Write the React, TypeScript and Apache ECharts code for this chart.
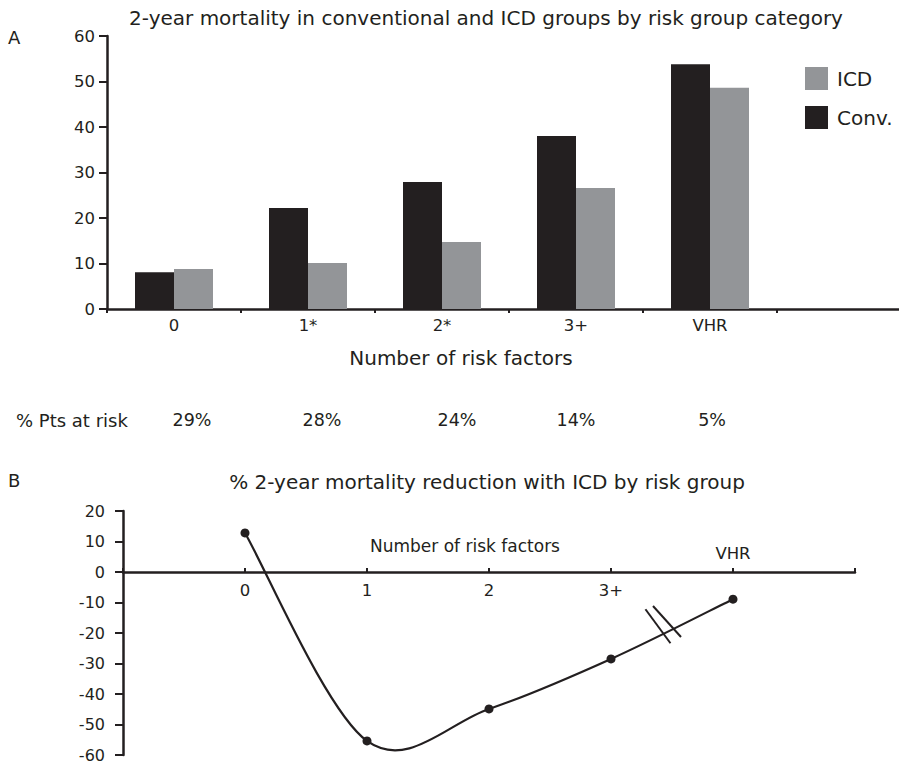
import React, { useEffect, useRef } from "react";
import * as echarts from "echarts";

// ---- Panel A data ----
const riskCategories = ["0", "1*", "2*", "3+", "VHR", ""];
const convMortality = [8.1, 22.2, 27.9, 38.0, 53.8];
const icdMortality = [8.8, 10.1, 14.7, 26.6, 48.6];
const mortalityMin = 0;
const mortalityMax = 60;
const mortalityStep = 10;
const ptsAtRiskLabel = "% Pts at risk";
const ptsAtRisk = ["29%", "28%", "24%", "14%", "5%"];

// ---- Panel B data ----
const reductionX = [0, 1, 2, 3, 4];
const reductionValues = [12.8, -55.4, -44.9, -28.5, -8.9];
const reductionXLabels = ["0", "1", "2", "3+", "VHR"];
const reductionMin = -60;
const reductionMax = 20;
const reductionStep = 10;

// ---- layout (not data) ----
const ptsAtRiskX = [192, 322, 457, 576, 712];
const gridB = { left: 123, top: 511, width: 732, height: 244 };

const FONT = "DejaVu Sans, Verdana, sans-serif";
const INK = "#231f20";
const GREY = "#939598";

export default function App() {
  const ref = useRef<HTMLDivElement>(null);

  useEffect(() => {
    if (!ref.current) return;
    const chart = echarts.init(ref.current, undefined, { renderer: "svg" });

    const baseText = { fontFamily: FONT, color: INK };
    const zeroFromBottom = (gridB.height * (0 - reductionMin)) / (reductionMax - reductionMin);
    const zeroFromTop = gridB.height - zeroFromBottom;
    const n = reductionX.length;

    // Catmull-Rom segment from point i to i+1, in pixel space through the axes
    const renderCurve = (params: any, api: any) => {
      const i = params.dataIndex;
      if (i >= n - 1) return null;
      const P = (k: number) => {
        const kk = Math.max(0, Math.min(n - 1, k));
        return api.coord([reductionX[kk], reductionValues[kk]]);
      };
      const p0 = P(i - 1);
      const p1 = P(i);
      const p2 = P(i + 1);
      const p3 = P(i + 2);
      return {
        type: "bezierCurve",
        shape: {
          x1: p1[0],
          y1: p1[1],
          cpx1: p1[0] + (p2[0] - p0[0]) / 6,
          cpy1: p1[1] + (p2[1] - p0[1]) / 6,
          cpx2: p2[0] - (p3[0] - p1[0]) / 6,
          cpy2: p2[1] - (p3[1] - p1[1]) / 6,
          x2: p2[0],
          y2: p2[1],
        },
        style: { fill: "none", stroke: INK, lineWidth: 2.2 },
      };
    };

    const option: any = {
      animation: false,
      backgroundColor: "#ffffff",
      textStyle: { fontFamily: FONT, color: INK },
      legend: {
        data: ["ICD", "Conv."],
        orient: "vertical",
        left: 800,
        top: 62,
        itemWidth: 23,
        itemHeight: 23,
        itemGap: 16,
        icon: "rect",
        textStyle: { ...baseText, fontSize: 20, padding: [0, 0, 0, 4] },
        selectedMode: false,
      },
      grid: [
        { left: 107, top: 36, width: 804, height: 273, containLabel: false, outerBoundsMode: "none" },
        { ...gridB, containLabel: false, outerBoundsMode: "none" },
      ],
      xAxis: [
        {
          gridIndex: 0,
          type: "category",
          data: riskCategories,
          boundaryGap: true,
          axisLine: { lineStyle: { color: INK, width: 2.5 } },
          axisTick: { show: true, length: 4, lineStyle: { color: INK, width: 2 } },
          axisLabel: { ...baseText, fontSize: 16.5, margin: 8 },
          splitLine: { show: false },
        },
        {
          gridIndex: 1,
          type: "value",
          min: -1,
          max: 5,
          interval: 1,
          position: "bottom",
          offset: -zeroFromBottom,
          axisLine: { onZero: false, lineStyle: { color: INK, width: 2.5 } },
          axisTick: { show: true, inside: true, length: 4, lineStyle: { color: INK, width: 2 } },
          axisLabel: {
            ...baseText,
            fontSize: 16.5,
            margin: 10,
            formatter: (v: number) => (v >= 0 && v <= 3 ? reductionXLabels[v] : ""),
          },
          splitLine: { show: false },
        },
        {
          gridIndex: 1,
          type: "value",
          position: "top",
          offset: -zeroFromTop,
          min: -1,
          max: 5,
          interval: 1,
          axisLine: { show: false, onZero: false },
          axisTick: { show: false },
          axisLabel: {
            ...baseText,
            fontSize: 16.5,
            margin: 10,
            formatter: (v: number) => (v === 4 ? reductionXLabels[4] : ""),
          },
          splitLine: { show: false },
        },
      ],
      yAxis: [
        {
          gridIndex: 0,
          type: "value",
          min: mortalityMin,
          max: mortalityMax,
          interval: mortalityStep,
          axisLine: { show: true, lineStyle: { color: INK, width: 2.5 } },
          axisTick: { show: true, length: 8, lineStyle: { color: INK, width: 2 } },
          axisLabel: { ...baseText, fontSize: 16.5, margin: 12 },
          splitLine: { show: false },
        },
        {
          gridIndex: 1,
          type: "value",
          min: reductionMin,
          max: reductionMax,
          interval: reductionStep,
          axisLine: { show: true, onZero: false, lineStyle: { color: INK, width: 2.5 } },
          axisTick: { show: true, length: 8, lineStyle: { color: INK, width: 2 } },
          axisLabel: { ...baseText, fontSize: 16, lineHeight: 14, margin: 18 },
          splitLine: { show: false },
        },
      ],
      series: [
        {
          name: "Conv.",
          type: "bar",
          xAxisIndex: 0,
          yAxisIndex: 0,
          data: convMortality,
          barWidth: 39,
          barGap: "0%",
          itemStyle: { color: INK },
        },
        {
          name: "ICD",
          type: "bar",
          xAxisIndex: 0,
          yAxisIndex: 0,
          data: icdMortality,
          barWidth: 39,
          barGap: "0%",
          itemStyle: { color: GREY },
        },
        {
          name: "reduction curve",
          type: "custom",
          coordinateSystem: "cartesian2d",
          xAxisIndex: 1,
          yAxisIndex: 1,
          data: reductionX.map((x, i) => [x, reductionValues[i]]),
          renderItem: renderCurve,
          clip: false,
          silent: true,
        },
        {
          name: "reduction",
          type: "scatter",
          xAxisIndex: 1,
          yAxisIndex: 1,
          data: reductionX.map((x, i) => [x, reductionValues[i]]),
          symbol: "circle",
          symbolSize: 9,
          itemStyle: { color: INK, opacity: 1 },
          z: 5,
        },
      ],
      graphic: [
        {
          type: "text",
          x: 8,
          y: 37,
          style: { text: "A", font: `18px ${FONT}`, fill: INK, verticalAlign: "middle" },
        },
        {
          type: "text",
          x: 486,
          y: 18,
          style: {
            text: "2-year mortality in conventional and ICD groups by risk group category",
            font: `20px ${FONT}`,
            fill: INK,
            align: "center",
            verticalAlign: "middle",
          },
        },
        {
          type: "text",
          x: 461,
          y: 358,
          style: {
            text: "Number of risk factors",
            font: `20px ${FONT}`,
            fill: INK,
            align: "center",
            verticalAlign: "middle",
          },
        },
        {
          type: "text",
          x: 16,
          y: 420,
          style: {
            text: ptsAtRiskLabel,
            font: `18px ${FONT}`,
            fill: INK,
            align: "left",
            verticalAlign: "middle",
          },
        },
        ...ptsAtRisk.map((t, i) => ({
          type: "text",
          x: ptsAtRiskX[i],
          y: 420,
          style: {
            text: t,
            font: `17.5px ${FONT}`,
            fill: INK,
            align: "center",
            verticalAlign: "middle",
          },
        })),
        {
          type: "text",
          x: 8,
          y: 480,
          style: { text: "B", font: `18px ${FONT}`, fill: INK, verticalAlign: "middle" },
        },
        {
          type: "text",
          x: 487,
          y: 482,
          style: {
            text: "% 2-year mortality reduction with ICD by risk group",
            font: `20px ${FONT}`,
            fill: INK,
            align: "center",
            verticalAlign: "middle",
          },
        },
        {
          type: "text",
          x: 465,
          y: 546,
          style: {
            text: "Number of risk factors",
            font: `17px ${FONT}`,
            fill: INK,
            align: "center",
            verticalAlign: "middle",
          },
        },
      ],
    };

    chart.setOption(option);

    // axis-break marks on the 3+ → VHR segment, positioned through the scales
    const p3 = chart.convertToPixel({ gridIndex: 1 }, [reductionX[3], reductionValues[3]]) as number[];
    const p4 = chart.convertToPixel({ gridIndex: 1 }, [reductionX[4], reductionValues[4]]) as number[];
    const at = (t: number) => [p3[0] + (p4[0] - p3[0]) * t, p3[1] + (p4[1] - p3[1]) * t];
    const c1 = at(0.43);
    const c2 = at(0.5);
    chart.setOption({
      graphic: [
        ...option.graphic,
        {
          type: "line",
          shape: { x1: c1[0] - 18, y1: c1[1] - 24, x2: c1[0] + 7, y2: c1[1] + 10 },
          style: { stroke: INK, lineWidth: 2 },
        },
        {
          type: "line",
          shape: { x1: c2[0] - 19, y1: c2[1] - 23, x2: c2[0] + 9, y2: c2[1] + 8 },
          style: { stroke: INK, lineWidth: 2 },
        },
      ],
    });

    return () => {
      chart.dispose();
    };
  }, []);

  return (
    <div
      ref={ref}
      style={{ position: "absolute", left: 0, top: 0, width: 899, height: 763, background: "#fff" }}
    />
  );
}
